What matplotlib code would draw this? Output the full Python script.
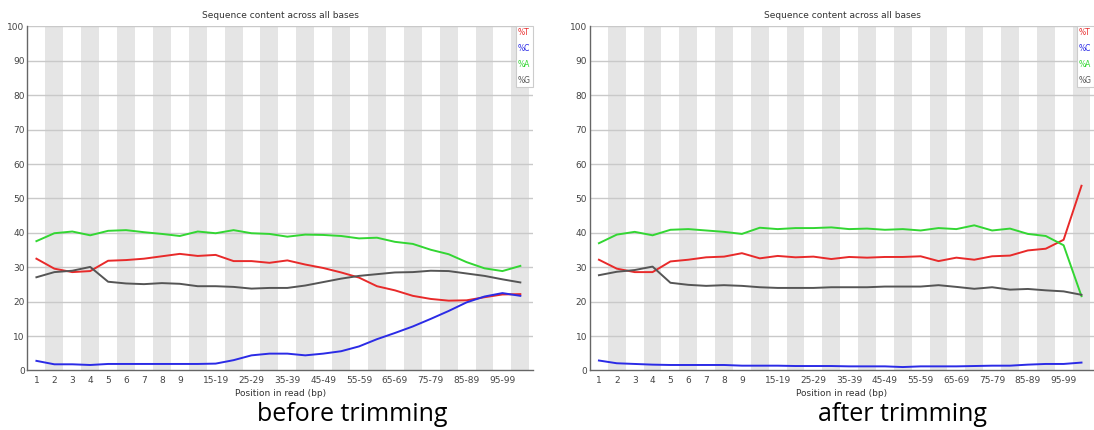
import matplotlib
matplotlib.use("Agg")
import matplotlib.pyplot as plt

# position bins as FastQC groups them
positions = ["1", "2", "3", "4", "5", "6", "7", "8", "9",
             "10-14", "15-19", "20-24", "25-29", "30-34", "35-39", "40-44",
             "45-49", "50-54", "55-59", "60-64", "65-69", "70-74", "75-79",
             "80-84", "85-89", "90-94", "95-99", "100-101"]

# before trimming (%)
before_T = [32.5, 29.6, 28.6, 28.9, 31.9, 32.1, 32.5, 33.2, 33.9, 33.3, 33.6, 31.8, 31.8, 31.3,
            32.0, 30.8, 29.8, 28.5, 27.0, 24.5, 23.3, 21.7, 20.8, 20.3, 20.4, 21.3, 22.1, 22.2]
before_C = [2.8, 1.8, 1.8, 1.6, 1.9, 1.9, 1.9, 1.9, 1.9, 1.9, 2.0, 3.0, 4.4, 4.9,
            4.9, 4.4, 4.9, 5.6, 7.0, 9.1, 10.9, 12.8, 15.0, 17.3, 19.8, 21.5, 22.5, 21.7]
before_A = [37.6, 39.9, 40.4, 39.3, 40.6, 40.8, 40.2, 39.7, 39.1, 40.4, 39.9, 40.8, 39.9, 39.7,
            38.9, 39.5, 39.4, 39.1, 38.4, 38.6, 37.4, 36.8, 35.1, 33.8, 31.5, 29.7, 28.9, 30.4]
before_G = [27.1, 28.6, 29.0, 30.1, 25.8, 25.3, 25.1, 25.4, 25.2, 24.5, 24.5, 24.3, 23.8, 24.0,
            24.0, 24.7, 25.7, 26.7, 27.5, 28.0, 28.5, 28.6, 29.0, 28.9, 28.2, 27.5, 26.5, 25.6]

# after trimming (%)
after_T = [32.2, 29.6, 28.6, 28.6, 31.7, 32.2, 32.9, 33.1, 34.1, 32.6, 33.3, 32.9, 33.1, 32.4,
           33.0, 32.8, 33.0, 33.0, 33.2, 31.8, 32.8, 32.2, 33.2, 33.4, 34.9, 35.4, 38.0, 53.7]
after_C = [2.9, 2.1, 1.9, 1.7, 1.6, 1.6, 1.6, 1.6, 1.4, 1.4, 1.4, 1.3, 1.3, 1.3,
           1.2, 1.2, 1.2, 1.0, 1.2, 1.2, 1.2, 1.3, 1.4, 1.4, 1.7, 1.9, 1.9, 2.3]
after_A = [37.0, 39.5, 40.3, 39.3, 40.9, 41.1, 40.7, 40.3, 39.7, 41.5, 41.1, 41.4, 41.4, 41.6,
           41.1, 41.25, 40.9, 41.1, 40.7, 41.4, 41.1, 42.2, 40.7, 41.25, 39.7, 39.1, 36.4, 21.6]
after_G = [27.7, 28.7, 29.2, 30.2, 25.5, 24.9, 24.6, 24.8, 24.6, 24.2, 24.0, 24.0, 24.0, 24.2,
           24.2, 24.2, 24.4, 24.4, 24.4, 24.8, 24.3, 23.75, 24.2, 23.5, 23.7, 23.3, 23.0, 22.0]

captions = ["before trimming", "after trimming"]

col_T = "#e82a2a"
col_C = "#2b2be6"
col_A = "#33d633"
col_G = "#555555"

fig = plt.figure(figsize=(10.94, 4.30), dpi=100)
ax1 = fig.add_axes([0.0251, 0.1384, 0.462, 0.800])
ax2 = fig.add_axes([0.5393, 0.1384, 0.4607, 0.800])


def draw_panel(ax, T, C, A, G):
    x = list(range(len(positions)))
    # alternating stripes
    for i in x:
        if i % 2 == 1:
            ax.axvspan(i - 0.5, i + 0.5, color="#e5e5e5", lw=0, zorder=0)
    for yv in range(10, 101, 10):
        ax.axhline(yv, color="#c9c9c9", lw=1.0, zorder=1)

    lT, = ax.plot(x, T, color=col_T, lw=1.4, zorder=3)
    lC, = ax.plot(x, C, color=col_C, lw=1.4, zorder=3)
    lA, = ax.plot(x, A, color=col_A, lw=1.4, zorder=3)
    lG, = ax.plot(x, G, color=col_G, lw=1.4, zorder=3)

    ax.set_xlim(-0.5, 27.7)
    ax.set_ylim(0, 100)
    ax.set_yticks(range(0, 101, 10))
    ax.set_yticklabels([str(v) for v in range(0, 101, 10)])
    shown = [i for i in x if i < 9 or (i % 2 == 0 and i <= 26)]
    ax.set_xticks(shown)
    ax.set_xticklabels([positions[i] for i in shown])
    ax.tick_params(length=0, labelsize=6.5, colors="#444444")
    ax.tick_params(axis="y", pad=2)
    ax.tick_params(axis="x", pad=4)
    for s in ["top", "right"]:
        ax.spines[s].set_visible(False)
    for s in ["left", "bottom"]:
        ax.spines[s].set_color("#666666")
        ax.spines[s].set_linewidth(1.0)

    ax.set_title("Sequence content across all bases", fontsize=6.5, color="#333333", pad=6)
    ax.set_xlabel("Position in read (bp)", fontsize=6.5, color="#333333", labelpad=3)

    leg = ax.legend([lT, lC, lA, lG], ["%T", "%C", "%A", "%G"], loc="upper right",
                    bbox_to_anchor=(1.0, 1.0), borderaxespad=0, handlelength=0,
                    handletextpad=0, labelcolor="linecolor", fontsize=5.5,
                    labelspacing=0.9, borderpad=0.25, fancybox=False,
                    framealpha=1, edgecolor="#cccccc")
    leg.get_frame().set_linewidth(0.8)
    for h in leg.legend_handles:
        h.set_visible(False)


draw_panel(ax1, before_T, before_C, before_A, before_G)
draw_panel(ax2, after_T, after_C, after_A, after_G)

fig.text(352 / 1094, 1 - 421 / 430, captions[0], ha="center", va="baseline",
         fontsize=18, family="Open Sans", color="black")
fig.text(902 / 1094, 1 - 421 / 430, captions[1], ha="center", va="baseline",
         fontsize=18, family="Open Sans", color="black")

plt.savefig("out.png", dpi=100)
